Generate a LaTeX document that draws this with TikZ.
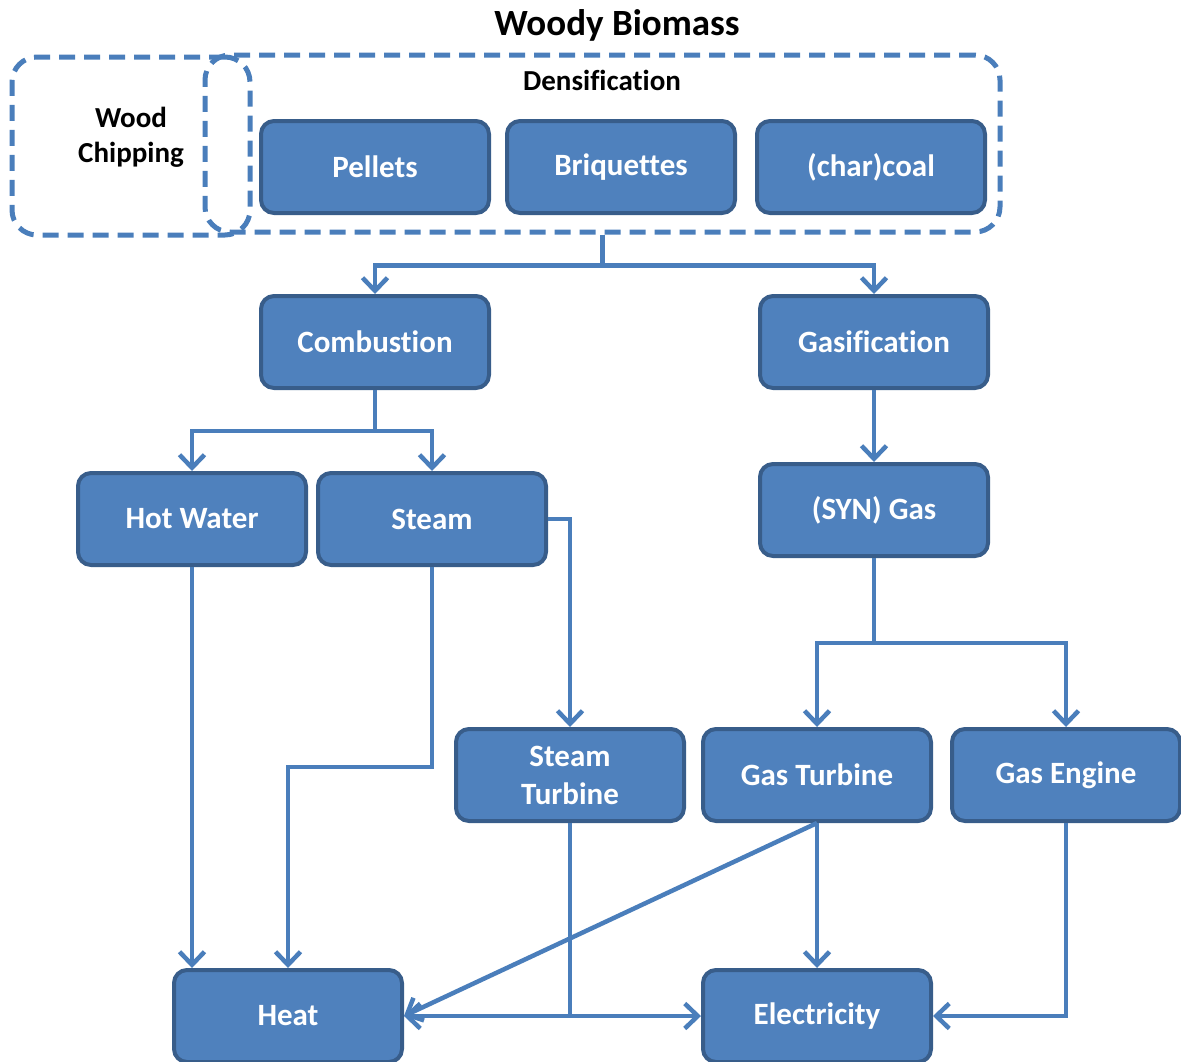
\documentclass[tikz,border=0pt]{standalone}
\usepackage{fontspec}
\setmainfont[Ligatures=NoCommon]{Carlito}
\usetikzlibrary{arrows.meta}
\definecolor{boxfill}{HTML}{4F81BD}
\definecolor{boxline}{HTML}{385D8A}
\definecolor{conncol}{HTML}{4A7EBB}
\begin{document}
\begin{tikzpicture}[x=1pt,y=-1pt,
  box/.style={draw=boxline, fill=boxfill, line width=4pt, rounded corners=13pt,
    minimum width=228pt, minimum height=92pt, text=white, inner sep=0pt,
    font=\fontsize{31}{38}\selectfont\bfseries, align=center},
  conn/.style={draw=conncol, line width=4.5pt},
  arr/.style={conn, -{Straight Barb[length=13pt,width=25pt]}},
  grp/.style={draw=conncol, line width=5pt, dash pattern=on 16pt off 9pt,
    rounded corners=25pt, inner sep=0pt},
  lbl/.style={text=black, font=\fontsize{29}{35}\selectfont\bfseries, align=center}]
\useasboundingbox (0,0) rectangle (1181,1061);
\clip (0,0) rectangle (1181,1061);

\node[lbl, font=\fontsize{37}{42}\selectfont\bfseries] (title) at (617,25) {Woody Biomass};

\node[grp, minimum width=238pt, minimum height=178pt] (chip) at (131,146) {};
\node[grp, minimum width=795pt, minimum height=177pt] (dens) at (602.5,143.5) {};
\node[lbl] (chiplbl) at (131,137) {Wood\\Chipping};
\node[lbl] (denslbl) at (602,80) {Densification};

\node[box] (pel) at (375,167) {Pellets};
\node[box] (bri) at (621,167) {Briquettes};
\node[box] (coal) at (871,167) {(char)coal};

\node[box] (comb) at (375,342) {Combustion};
\node[box] (gas) at (874,342) {Gasification};

\node[box] (hw) at (192,519) {Hot Water};
\node[box] (steam) at (432,519) {Steam};
\node[box] (syn) at (874,510) {(SYN) Gas};

\node[box] (st) at (570,775) {Steam\\Turbine};
\node[box] (gt) at (817,775) {Gas Turbine};
\node[box] (ge) at (1066,775) {Gas Engine};

\node[box] (heat) at (288,1016) {Heat};
\node[box] (elec) at (817,1016) {Electricity};

% connectors
\coordinate (d1) at ([yshift=-31pt]dens.south);
\draw[conn] (dens.south) -- (d1);
\draw[arr] (d1) -| (comb.north);
\draw[arr] (d1) -| (gas.north);

\coordinate (c1) at ([yshift=-41pt]comb.south);
\draw[conn] (comb.south) -- (c1);
\draw[arr] (c1) -| (hw.north);
\draw[arr] (c1) -| (steam.north);

\draw[arr] (gas.south) -- (syn.north);
\draw[arr] (steam.east) -| (st.north);

\coordinate (s1) at ([yshift=-85pt]syn.south);
\draw[conn] (syn.south) -- (s1);
\draw[arr] (s1) -| (gt.north);
\draw[arr] (s1) -| (ge.north);

\draw[arr] (hw.south) -- (hw.south |- heat.north);
\coordinate (w1) at ([yshift=-200pt]steam.south);
\draw[arr] (steam.south) -- (w1) -| (heat.north);

\coordinate (t1) at (st.south |- heat.east);
\draw[conn] (st.south) -- (t1);
\draw[arr] (t1) -- (heat.east);
\draw[arr] (t1) -- (elec.west);

\draw[arr] (gt.south) -- (heat.east);
\draw[arr] (gt.south) -- (elec.north);
\draw[arr] (ge.south) |- (elec.east);
\end{tikzpicture}
\end{document}
